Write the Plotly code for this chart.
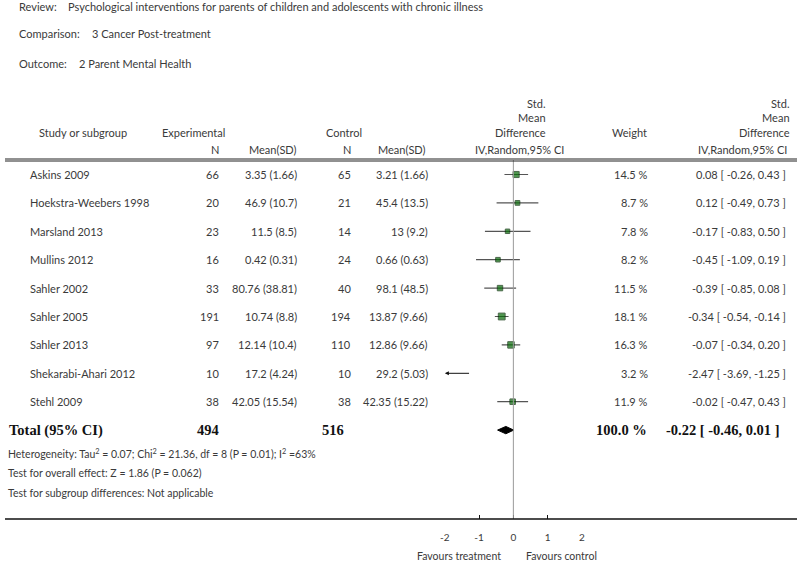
import plotly.graph_objects as go

# ---------------- data ----------------
studies = ["Askins 2009", "Hoekstra-Weebers 1998", "Marsland 2013", "Mullins 2012",
           "Sahler 2002", "Sahler 2005", "Sahler 2013", "Shekarabi-Ahari 2012", "Stehl 2009"]
exp_n = [66, 20, 23, 16, 33, 191, 97, 10, 38]
exp_mean = [3.35, 46.9, 11.5, 0.42, 80.76, 10.74, 12.14, 17.2, 42.05]
exp_sd = [1.66, 10.7, 8.5, 0.31, 38.81, 8.8, 10.4, 4.24, 15.54]
ctrl_n = [65, 21, 14, 24, 40, 194, 110, 10, 38]
ctrl_mean = [3.21, 45.4, 13, 0.66, 98.1, 13.87, 12.86, 29.2, 42.35]
ctrl_sd = [1.66, 13.5, 9.2, 0.63, 48.5, 9.66, 9.66, 5.03, 15.22]
weights = [14.5, 8.7, 7.8, 8.2, 11.5, 18.1, 16.3, 3.2, 11.9]
smd = [0.08, 0.12, -0.17, -0.45, -0.39, -0.34, -0.07, -2.47, -0.02]
ci_lo = [-0.26, -0.49, -0.83, -1.09, -0.85, -0.54, -0.34, -3.69, -0.47]
ci_hi = [0.43, 0.73, 0.50, 0.19, 0.08, -0.14, 0.20, -1.25, 0.43]

total_exp_n = 494
total_ctrl_n = 516
total_weight = 100.0
total_smd = -0.22
total_lo = -0.46
total_hi = 0.01

axis_ticks = [-2, -1, 0, 1, 2]
axis_range = [-2, 2]

review = "Psychological interventions for parents of children and adolescents with chronic illness"
comparison = "3 Cancer Post-treatment"
outcome = "2 Parent Mental Health"
heterogeneity = "Heterogeneity: Tau<sup>2</sup> = 0.07; Chi<sup>2</sup> = 21.36, df = 8 (P = 0.01); I<sup>2</sup> =63%"
overall_test = "Test for overall effect: Z = 1.86 (P = 0.062)"
subgroup_test = "Test for subgroup differences: Not applicable"
favours_left = "Favours treatment"
favours_right = "Favours control"

# ---------------- layout helpers ----------------
W, H = 800, 561
FONT = "Lato"
TXT = "#3a3a3a"
FS = 11


def px(x):
    return x / W


def py(y):
    return 1 - y / H


ROW0, STEP = 174.5, 28.4
TOP_LINE, AXIS_LINE = 160, 519
X_LEFT_PX, X_RIGHT_PX = 444.3, 582.7
n = len(studies)
total_row = n

fig = go.Figure()

# CI lines (clipped to the axis range)
for i in range(n):
    lo, hi = ci_lo[i], ci_hi[i]
    if lo < axis_range[0] or hi > axis_range[1]:
        continue
    fig.add_trace(go.Scatter(x=[lo, hi], y=[i, i], mode="lines",
                             line=dict(color="#555555", width=1.2),
                             hoverinfo="skip", showlegend=False))

# arrows for out-of-range CIs
for i in range(n):
    lo, hi = ci_lo[i], ci_hi[i]
    if lo < axis_range[0]:
        fig.add_annotation(x=axis_range[0], y=i, ax=min(hi, axis_range[1]), ay=i,
                           xref="x", yref="y", axref="x", ayref="y", text="",
                           showarrow=True, arrowhead=2, arrowsize=0.8, arrowwidth=1,
                           arrowcolor="#111111", standoff=0, startstandoff=0)

# squares
in_x, in_y, in_s = [], [], []
for i in range(n):
    if axis_range[0] <= smd[i] <= axis_range[1]:
        in_x.append(smd[i])
        in_y.append(i)
        in_s.append(1.6 * weights[i] ** 0.5)
fig.add_trace(go.Scatter(x=in_x, y=in_y, mode="markers",
                         marker=dict(symbol="square", size=in_s, color="#066b06",
                                     line=dict(color="#002a00", width=1)),
                         hoverinfo="skip", showlegend=False))

# diamond
dh = 0.13
fig.add_trace(go.Scatter(x=[total_lo, total_smd, total_hi, total_smd, total_lo],
                         y=[total_row, total_row - dh, total_row, total_row + dh, total_row],
                         mode="lines", fill="toself", fillcolor="#000000",
                         line=dict(color="#000000", width=1),
                         hoverinfo="skip", showlegend=False))

# shapes: zero line, top double line, bottom axis line
fig.add_shape(type="line", xref="x", yref="paper", x0=0, x1=0,
              y0=py(TOP_LINE), y1=py(AXIS_LINE), line=dict(color="#9a9a9a", width=1))
fig.add_shape(type="line", xref="paper", yref="paper", x0=0, x1=1,
              y0=py(TOP_LINE - 1), y1=py(TOP_LINE - 1), line=dict(color="#222222", width=1))
fig.add_shape(type="line", xref="paper", yref="paper", x0=0, x1=1,
              y0=py(TOP_LINE + 1), y1=py(TOP_LINE + 1), line=dict(color="#222222", width=1))
fig.add_shape(type="line", xref="paper", yref="paper", x0=0, x1=1,
              y0=py(AXIS_LINE), y1=py(AXIS_LINE), line=dict(color="#111111", width=1.5))


def ann(text, x, y, xanchor="left", yref="paper", size=FS, color=TXT, family=FONT, align="left"):
    fig.add_annotation(text=text, x=px(x), y=(py(y) if yref == "paper" else y),
                       xref="paper", yref=yref, xanchor=xanchor, yanchor="middle",
                       showarrow=False, align=align,
                       font=dict(family=family, size=size, color=color))


# titles
ann("Review:", 12, 6)
ann(review, 62, 6)
ann("Comparison:", 12, 34)
ann(comparison, 86, 34)
ann("Outcome:", 12, 63)
ann(outcome, 73, 63)

# headers
ann("Study or subgroup", 32, 132)
ann("Experimental", 157, 132)
ann("Control", 322, 132)
ann("N", 218, 150, xanchor="right")
ann("Mean(SD)", 297, 150, xanchor="right")
ann("N", 352, 150, xanchor="right")
ann("Mean(SD)", 427, 150, xanchor="right")
ann("Std.<br>Mean<br>Difference", 548, 118, xanchor="right", align="right")
ann("IV,Random,95% CI", 519.5, 150, xanchor="center")
ann("Weight", 650, 132, xanchor="right")
ann("Std.<br>Mean<br>Difference", 795, 118, xanchor="right", align="right")
ann("IV,Random,95% CI", 792, 150, xanchor="right")

# study rows
for i in range(n):
    ann(studies[i], 23, i, yref="y")
    ann(str(exp_n[i]), 218, i, xanchor="right", yref="y")
    ann(f"{exp_mean[i]:g} ({exp_sd[i]:g})", 297, i, xanchor="right", yref="y")
    ann(str(ctrl_n[i]), 352, i, xanchor="right", yref="y")
    ann(f"{ctrl_mean[i]:g} ({ctrl_sd[i]:g})", 429, i, xanchor="right", yref="y")
    ann(f"{weights[i]:.1f} %", 652, i, xanchor="right", yref="y")
    ann(f"{smd[i]:.2f} [ {ci_lo[i]:.2f}, {ci_hi[i]:.2f} ]", 791, i, xanchor="right", yref="y")

# total row
SERIF = "Liberation Serif"
TS = 14.5
ann("<b>Total (95% CI)</b>", 2, total_row, yref="y", size=TS, color="#111111", family=SERIF)
ann(f"<b>{total_exp_n}</b>", 218, total_row, xanchor="right", yref="y", size=TS, color="#111111", family=SERIF)
ann(f"<b>{total_ctrl_n}</b>", 344, total_row, xanchor="right", yref="y", size=TS, color="#111111", family=SERIF)
ann(f"<b>{total_weight:.1f} %</b>", 651, total_row, xanchor="right", yref="y", size=TS, color="#111111", family=SERIF)
ann(f"<b>{total_smd:.2f} [ {total_lo:.2f}, {total_hi:.2f} ]</b>", 785, total_row, xanchor="right",
    yref="y", size=TS, color="#111111", family=SERIF)

# footnotes
ann(heterogeneity, 1, 453, size=10.5)
ann(overall_test, 1, 473, size=10.5)
ann(subgroup_test, 1, 493, size=10.5)

# favours labels
ann(favours_left, 459, 556, xanchor="center", size=10.5)
ann(favours_right, 562, 556, xanchor="center", size=10.5)

y_top = (TOP_LINE - ROW0) / STEP
y_bot = (AXIS_LINE - ROW0) / STEP

fig.update_layout(
    width=W, height=H, margin=dict(l=0, r=0, t=0, b=0),
    paper_bgcolor="white", plot_bgcolor="rgba(0,0,0,0)",
    showlegend=False,
    xaxis=dict(domain=[px(X_LEFT_PX), px(X_RIGHT_PX)], range=axis_range,
               tickvals=axis_ticks, ticktext=[str(t) for t in axis_ticks],
               ticks="inside", ticklen=4, tickwidth=1.2, tickcolor="#111111",
               showgrid=False, zeroline=False, showline=False,
               ticklabelstandoff=11,
               tickfont=dict(family=FONT, size=10, color=TXT),
               anchor="y", fixedrange=True),
    yaxis=dict(domain=[py(AXIS_LINE), py(TOP_LINE)], range=[y_bot, y_top],
               visible=False, fixedrange=True),
)

fig.write_html("out.html", config={"displayModeBar": False},
               post_script="document.body.style.margin='0';document.body.style.overflow='hidden';")
